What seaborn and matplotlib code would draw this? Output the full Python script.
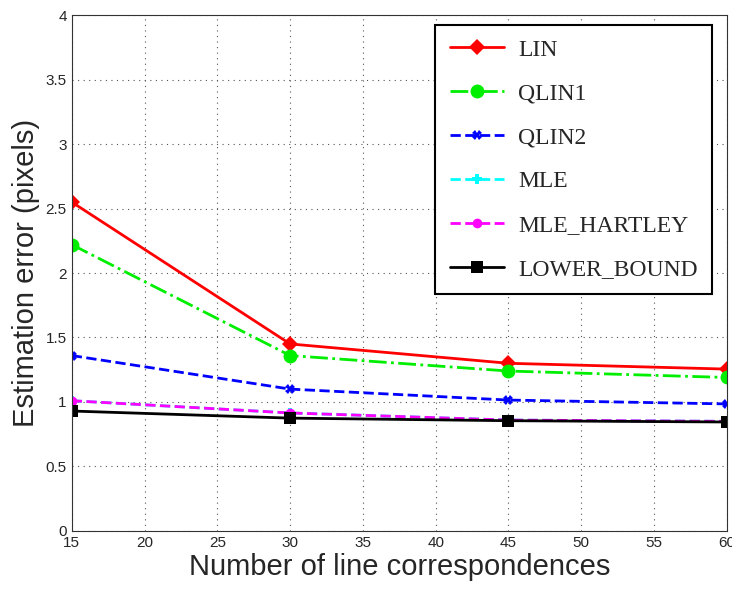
import seaborn as sns
import matplotlib.pyplot as plt
import pandas as pd
from matplotlib.ticker import MultipleLocator, FormatStrFormatter

# Data
n_lines = [15, 30, 45, 60]
lin = [2.55, 1.45, 1.30, 1.255]
qlin1 = [2.22, 1.36, 1.24, 1.19]
qlin2 = [1.36, 1.10, 1.015, 0.985]
mle = [1.01, 0.915, 0.86, 0.85]
mle_hartley = [1.01, 0.915, 0.86, 0.85]
lower_bound = [0.93, 0.875, 0.855, 0.845]

series = {
    'LIN': lin,
    'QLIN1': qlin1,
    'QLIN2': qlin2,
    'MLE': mle,
    'MLE_HARTLEY': mle_hartley,
    'LOWER_BOUND': lower_bound,
}
rows = [(name, x, y) for name, vals in series.items() for x, y in zip(n_lines, vals)]
df = pd.DataFrame(rows, columns=['method', 'n', 'err'])

styles = {
    'LIN': dict(color='#ff0000', linestyle='-', marker='D', markersize=8),
    'QLIN1': dict(color='#00ee00', linestyle='-.', marker='o', markersize=10),
    'QLIN2': dict(color='#0000ff', linestyle='--', marker='X', markersize=7),
    'MLE': dict(color='#00ffff', linestyle='--', marker='P', markersize=7),
    'MLE_HARTLEY': dict(color='#ff00ff', linestyle='--', marker='o', markersize=7),
    'LOWER_BOUND': dict(color='#000000', linestyle='-', marker='s', markersize=8),
}

sns.set_style('white')
plt.rcParams['font.family'] = ['Liberation Sans', 'DejaVu Sans']

fig = plt.figure(figsize=(7.32, 5.89), dpi=100)
ax = fig.add_axes([0.098, 0.0985, 0.895, 0.876])

for name in series:
    sub = df[df['method'] == name]
    st = styles[name]
    sns.lineplot(data=sub, x='n', y='err', ax=ax, label=name, linewidth=2,
                 markeredgewidth=0, **st)

ax.set_xlim(15, 60)
ax.set_ylim(0, 4)
ax.xaxis.set_major_locator(MultipleLocator(5))
ax.yaxis.set_major_locator(MultipleLocator(0.5))
ax.yaxis.set_major_formatter(FormatStrFormatter('%g'))
ax.xaxis.set_minor_locator(MultipleLocator(1))
ax.yaxis.set_minor_locator(MultipleLocator(0.1))
ax.tick_params(which='both', direction='in', top=False, right=False, labelsize=11)
ax.tick_params(which='major', length=5)
ax.tick_params(which='minor', length=2)
ax.grid(True, which='major', linestyle=(0, (1, 4)), color='#555555', linewidth=0.8)
for s in ax.spines.values():
    s.set_color('#333333')
    s.set_linewidth(0.8)

ax.set_xlabel('Number of line correspondences', fontsize=21, labelpad=2)
ax.set_ylabel('Estimation error (pixels)', fontsize=21, labelpad=4)

leg = ax.legend(loc='upper right', bbox_to_anchor=(0.977, 0.981),
                borderaxespad=0,
                prop={'family': 'Liberation Serif', 'size': 17},
                fancybox=False, edgecolor='black', framealpha=1,
                handlelength=2.3, labelspacing=0.95, borderpad=0.6,
                handletextpad=0.6)
leg.get_frame().set_linewidth(1.5)

fig.savefig('out.png', dpi=100)
